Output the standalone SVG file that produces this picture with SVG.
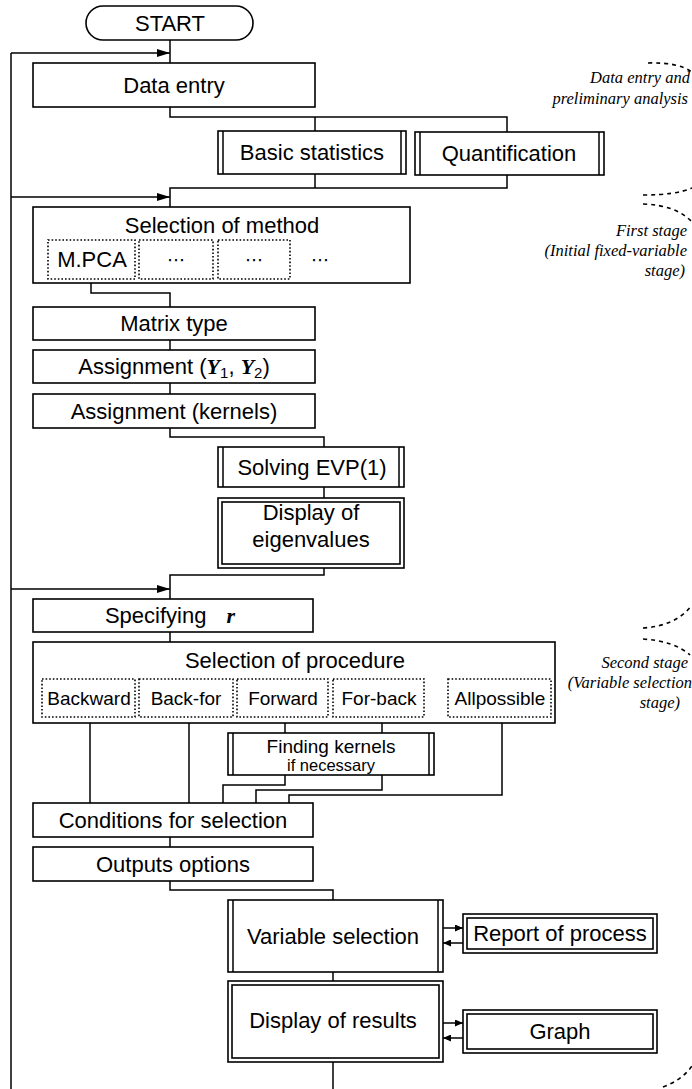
<svg xmlns="http://www.w3.org/2000/svg" width="692" height="1089" viewBox="0 0 692 1089">
<defs>
<marker id="arrowBig" markerUnits="userSpaceOnUse" markerWidth="13" markerHeight="8" refX="13" refY="4" orient="auto"><path d="M0,0 L13,4 L0,8 Z" fill="#000"/></marker>
<marker id="arrowSmall" markerUnits="userSpaceOnUse" markerWidth="8" markerHeight="7" refX="8" refY="3.5" orient="auto"><path d="M0,0 L8,3.5 L0,7 Z" fill="#000"/></marker>
<style>
.box{fill:#fff;stroke:#000;stroke-width:1.6}
.ln{fill:none;stroke:#000;stroke-width:1.5}
.dot{fill:none;stroke:#000;stroke-width:1.6;stroke-dasharray:1.6 2}
.t{font-family:"Liberation Sans",Arial,sans-serif;font-size:22px;text-anchor:middle;fill:#000}
.ts{font-size:19px}
.tx{font-size:16.5px}
.el{font-family:"DejaVu Sans",sans-serif;font-size:18px;text-anchor:middle;fill:#000}
.ann{font-family:"Liberation Serif","Times New Roman",serif;font-style:italic;font-size:16.5px;text-anchor:end;fill:#000}
.dash{fill:none;stroke:#000;stroke-width:1.6;stroke-dasharray:4 4}
.bi{font-family:"Liberation Serif","Times New Roman",serif;font-style:italic;font-weight:bold}
.sub{font-size:15px}
</style>
</defs>

<g id="connectors">
  <path class="ln" d="M11,1089 L11,53"/>
  <path class="ln" d="M11,53 L170,53" marker-end="url(#arrowBig)"/>
  <path class="ln" d="M11,197 L170,197" marker-end="url(#arrowBig)"/>
  <path class="ln" d="M11,589 L170,589" marker-end="url(#arrowBig)"/>
  <path class="ln" d="M170,40 L170,63"/>
  <path class="ln" d="M170,107 L170,117 L507,117 L507,132"/>
  <path class="ln" d="M315,117 L315,131"/>
  <path class="ln" d="M315,174 L315,188"/>
  <path class="ln" d="M507,175 L507,188 L170,188 L170,207"/>
  <path class="ln" d="M91,279 L91,293 L170,293 L170,307"/>
  <path class="ln" d="M170,340 L170,350"/>
  <path class="ln" d="M170,383 L170,394"/>
  <path class="ln" d="M170,428 L170,437 L324,437 L324,447"/>
  <path class="ln" d="M324,487 L324,498"/>
  <path class="ln" d="M324,568 L324,575 L170,575 L170,599"/>
  <path class="ln" d="M170,632 L170,642"/>
  <path class="ln" d="M90,723 L90,803"/>
  <path class="ln" d="M189,723 L189,803"/>
  <path class="ln" d="M285,717 L285,733"/>
  <path class="ln" d="M382,717 L382,733"/>
  <path class="ln" d="M285,775 L285,785 L223,785 L223,803"/>
  <path class="ln" d="M382,775 L382,790 L256,790 L256,803"/>
  <path class="ln" d="M502,723 L502,795 L289,795 L289,803"/>
  <path class="ln" d="M170,837 L170,847"/>
  <path class="ln" d="M170,881 L170,890 L333,890 L333,900"/>
  <path class="ln" d="M333,972 L333,981"/>
  <path class="ln" d="M333,1062 L333,1089"/>
  <path class="ln" d="M443,928 L463,928" marker-end="url(#arrowSmall)"/>
  <path class="ln" d="M463,943 L443,943" marker-end="url(#arrowSmall)"/>
  <path class="ln" d="M443,1023 L463,1023" marker-end="url(#arrowSmall)"/>
  <path class="ln" d="M463,1038 L443,1038" marker-end="url(#arrowSmall)"/>
</g>

<g id="start">
  <rect class="box" x="86" y="6" width="167" height="34" rx="17"/>
  <text class="t" x="170" y="31">START</text>
</g>

<g id="data-entry">
  <rect class="box" x="33" y="63" width="282" height="44"/>
  <text class="t" x="174" y="93">Data entry</text>
</g>

<g id="basic-statistics">
  <rect class="box" x="218" y="131" width="188" height="43"/>
  <path class="ln" d="M223,131 V174 M401,131 V174"/>
  <text class="t" x="312" y="160">Basic statistics</text>
</g>

<g id="quantification">
  <rect class="box" x="415" y="132" width="189" height="43"/>
  <path class="ln" d="M420,132 V175 M599,132 V175"/>
  <text class="t" x="509" y="161">Quantification</text>
</g>

<g id="selection-of-method">
  <rect class="box" x="33" y="207" width="377" height="76"/>
  <text class="t" x="222" y="233">Selection of method</text>
  <rect class="dot" x="48" y="240" width="87" height="39"/>
  <rect class="dot" x="139" y="240" width="74" height="39"/>
  <rect class="dot" x="218" y="240" width="72" height="39"/>
  <text class="t" x="92" y="267">M.PCA</text>
  <text class="el" x="176" y="266">⋯</text>
  <text class="el" x="254" y="266">⋯</text>
  <text class="el" x="320" y="266">⋯</text>
</g>

<g id="matrix-type">
  <rect class="box" x="33" y="307" width="282" height="33"/>
  <text class="t" x="174" y="331">Matrix type</text>
</g>

<g id="assignment-y">
  <rect class="box" x="33" y="350" width="282" height="33"/>
  <text class="t" x="174" y="374">Assignment (<tspan class="bi">Y</tspan><tspan class="sub" dy="4">1</tspan><tspan dy="-4">, </tspan><tspan class="bi">Y</tspan><tspan class="sub" dy="4">2</tspan><tspan dy="-4">)</tspan></text>
</g>

<g id="assignment-kernels">
  <rect class="box" x="33" y="394" width="282" height="34"/>
  <text class="t" x="174" y="419">Assignment (kernels)</text>
</g>

<g id="solving-evp">
  <rect class="box" x="218" y="447" width="186" height="40"/>
  <path class="ln" d="M223,447 V487 M399,447 V487"/>
  <text class="t" x="312" y="475">Solving EVP(1)</text>
</g>

<g id="display-eigenvalues">
  <rect class="box" x="218" y="498" width="186" height="70"/>
  <rect class="box" x="222" y="502" width="178" height="62"/>
  <text class="t" x="311" y="520">Display of</text>
  <text class="t" x="311" y="547">eigenvalues</text>
</g>

<g id="specifying-r">
  <rect class="box" x="33" y="599" width="280" height="33"/>
  <text class="t" x="170" y="623">Specifying <tspan class="bi" dx="14">r</tspan></text>
</g>

<g id="selection-of-procedure">
  <rect class="box" x="33" y="642" width="522" height="81"/>
  <text class="t" x="295" y="668">Selection of procedure</text>
  <rect class="dot" x="42" y="679" width="93" height="38"/>
  <rect class="dot" x="139" y="679" width="94" height="38"/>
  <rect class="dot" x="237" y="679" width="91" height="38"/>
  <rect class="dot" x="333" y="679" width="91" height="38"/>
  <rect class="dot" x="448" y="679" width="103" height="38"/>
  <text class="t ts" x="89" y="705">Backward</text>
  <text class="t ts" x="186" y="705">Back-for</text>
  <text class="t ts" x="283" y="705">Forward</text>
  <text class="t ts" x="379" y="705">For-back</text>
  <text class="t ts" x="500" y="705">Allpossible</text>
</g>

<g id="finding-kernels">
  <rect class="box" x="228" y="733" width="206" height="42"/>
  <path class="ln" d="M233,733 V775 M429,733 V775"/>
  <text class="t ts" x="331" y="753">Finding kernels</text>
  <text class="t tx" x="331" y="771">if necessary</text>
</g>

<g id="conditions">
  <rect class="box" x="33" y="803" width="280" height="34"/>
  <text class="t" x="173" y="828">Conditions for selection</text>
</g>

<g id="outputs-options">
  <rect class="box" x="33" y="847" width="280" height="34"/>
  <text class="t" x="173" y="872">Outputs options</text>
</g>

<g id="variable-selection">
  <rect class="box" x="228" y="900" width="215" height="72"/>
  <path class="ln" d="M233,900 V972 M438,900 V972"/>
  <text class="t" x="333" y="944">Variable selection</text>
</g>

<g id="report-of-process">
  <rect class="box" x="463" y="914" width="194" height="39"/>
  <rect class="box" x="467" y="918" width="186" height="31"/>
  <text class="t" x="560" y="941">Report of process</text>
</g>

<g id="display-results">
  <rect class="box" x="228" y="981" width="215" height="81"/>
  <rect class="box" x="232" y="985" width="207" height="73"/>
  <text class="t" x="333" y="1028">Display of results</text>
</g>

<g id="graph">
  <rect class="box" x="463" y="1010" width="194" height="43"/>
  <rect class="box" x="467" y="1014" width="186" height="35"/>
  <text class="t" x="560" y="1039">Graph</text>
</g>

<g id="annotations">
  <path class="dash" d="M648,63 Q678,62 692,72"/>
  <text class="ann" x="690" y="83">Data entry and</text>
  <text class="ann" x="688" y="104">preliminary analysis</text>
  <path class="dash" d="M643,195 Q676,195 692,188"/>
  <path class="dash" d="M643,204 Q676,205 692,222"/>
  <text class="ann" x="687" y="236">First stage</text>
  <text class="ann" x="687" y="256">(Initial fixed-variable</text>
  <text class="ann" x="685" y="276">stage)</text>
  <path class="dash" d="M643,628 Q676,626 692,605"/>
  <path class="dash" d="M643,639 Q674,641 690,655"/>
  <text class="ann" x="688" y="668">Second stage</text>
  <text class="ann" x="692" y="688">(Variable selection</text>
  <text class="ann" x="680" y="708">stage)</text>
  <path class="dash" d="M663,1087 Q682,1080 692,1066"/>
</g>
</svg>
